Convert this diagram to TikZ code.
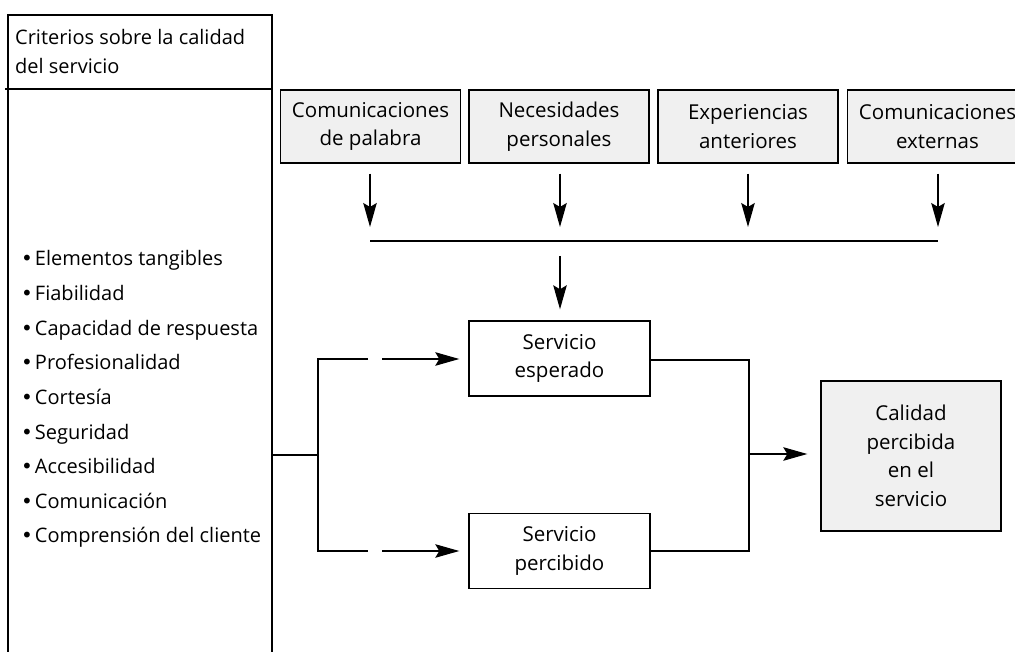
\documentclass[tikz,border=0pt]{standalone}
\usepackage{fontspec}
\setmainfont{Open Sans}
\newfontfamily\djv{DejaVu Sans}
\usetikzlibrary{arrows.meta}
\newcommand{\bul}{{\djv\fontsize{20}{20}\selectfont•}\hspace{2pt}}
\begin{document}
\begin{tikzpicture}[x=1pt,y=-1pt,
  every node/.style={font=\fontsize{20.5}{28.5}\selectfont, inner sep=0pt},
  topbox/.style={draw, line width=1.4pt, fill=black!6, minimum width=180pt, minimum height=73pt, align=center},
  svcbox/.style={draw, line width=1.4pt, fill=white, minimum width=181pt, minimum height=75pt, align=center},
  calbox/.style={draw, line width=1.4pt, fill=black!6, minimum width=180pt, minimum height=150pt, align=center},
  conn/.style={line width=1.3pt},
  arr/.style={line width=1.3pt, -{Stealth[length=24pt,width=13.5pt,inset=4pt]}},
  item/.style={anchor=base west, font=\fontsize{20}{24}\selectfont}
]
\useasboundingbox (0,0) rectangle (1015,652);
\clip (0,0) rectangle (1015,652);

% left panel
\draw[conn,line width=1.4pt] (8,660) -- (8,15) -- (272,15) -- (272,660);
\draw[conn,line width=1.4pt] (5,89) -- (272,89);
\node[item] (hA) at (15,45) {Criterios sobre la calidad};
\node[item] (hB) at (15,73.5) {del servicio};

\node[item] (i1) at (21,266) {\bul Elementos tangibles};
\node[item] (i2) at (21,300.6) {\bul Fiabilidad};
\node[item] (i3) at (21,335.2) {\bul Capacidad de respuesta};
\node[item] (i4) at (21,369.8) {\bul Profesionalidad};
\node[item] (i5) at (21,404.4) {\bul Cortesía};
\node[item] (i6) at (21,439) {\bul Seguridad};
\node[item] (i7) at (21,473.6) {\bul Accesibilidad};
\node[item] (i8) at (21,508.2) {\bul Comunicación};
\node[item] (i9) at (21,542.8) {\bul Comprensión del cliente};

% top boxes
\node[topbox] (b1) at (370.5,126.5) {Comunicaciones\\de palabra};
\node[topbox] (b2) at (559,126.5) {Necesidades\\personales};
\node[topbox] (b3) at (748,126.5) {Experiencias\\anteriores};
\node[topbox] (b4) at (937.5,126.5) {Comunicaciones\\externas};

\coordinate (t1) at (370,227);
\coordinate (t2) at (560,227);
\coordinate (t3) at (748,227);
\coordinate (t4) at (938,227);
\draw[arr, shorten <=10pt] (b1.south -| t1) -- (t1);
\draw[arr, shorten <=10pt] (b2.south -| t2) -- (t2);
\draw[arr, shorten <=10pt] (b3.south -| t3) -- (t3);
\draw[arr, shorten <=10pt] (b4.south -| t4) -- (t4);

\coordinate (hl) at (370,241);
\coordinate (hr) at (938,241);
\draw[conn] (hl) -- (hr);

% service boxes
\node[svcbox] (esp) at (559.5,358.5) {Servicio\\esperado};
\node[svcbox] (per) at (559.5,551) {Servicio\\percibido};
\node[calbox] (cal) at (911,456) {Calidad\\percibida\\en el\\servicio};

\coordinate (dstart) at (560,256);
\draw[arr, shorten >=11pt] (dstart) -- (esp.north -| dstart);

% left connectors
\coordinate (lj) at (318,455);
\coordinate (lt) at (318,359);
\coordinate (lb) at (318,551);
\coordinate (gt1) at (368,359);
\coordinate (gt2) at (382,359);
\coordinate (gb1) at (368,551);
\coordinate (gb2) at (382,551);
\draw[conn] (272,455) -- (lj);
\draw[conn] (gt1) -- (lt) -- (lb) -- (gb1);
\draw[arr, shorten >=9pt] (gt2) -- (esp.west |- gt2);
\draw[arr, shorten >=9pt] (gb2) -- (per.west |- gb2);

% right connectors
\coordinate (rt) at (749,360);
\coordinate (rb) at (749,551);
\coordinate (rm) at (749,454);
\draw[conn] (esp.east |- rt) -- (rt) -- (rb) -- (per.east |- rb);
\draw[arr, shorten >=13pt] (rm) -- (cal.west |- rm);
\end{tikzpicture}
\end{document}
